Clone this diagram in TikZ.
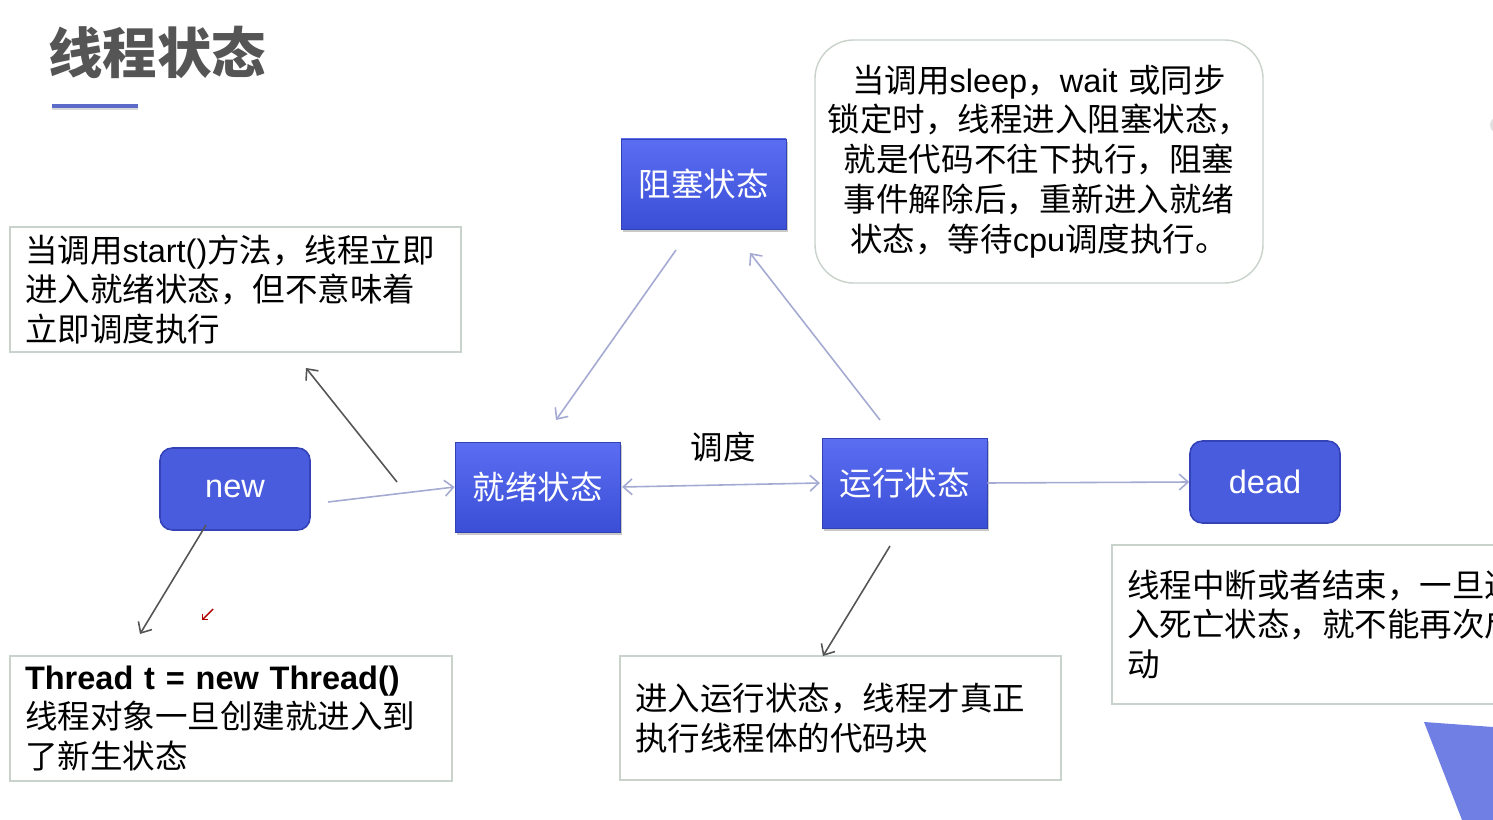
\documentclass[tikz,border=0pt]{standalone}
\usepackage{fontspec}
\setmainfont{Noto Sans CJK SC}
\newfontfamily\latinsans{Liberation Sans}
\usetikzlibrary{arrows.meta,shadows}
\newdimen\pxu \pxu=0.02cm
\newcommand{\ltn}[1]{{\latinsans #1}}
\definecolor{boxtop}{HTML}{5B6EF2}
\definecolor{boxbot}{HTML}{3A4ED6}
\definecolor{rbfill}{HTML}{4A5CDE}
\definecolor{rbdraw}{HTML}{3444B8}
\definecolor{notegray}{HTML}{C9D3CB}
\definecolor{lightarrow}{HTML}{A4AAD2}
\definecolor{darkarrow}{HTML}{555555}
\definecolor{titlegray}{HTML}{555555}
\definecolor{underl}{HTML}{5C6BC8}
\definecolor{trifill}{HTML}{6F7FE3}
\begin{document}
\begin{tikzpicture}[x=0.02cm,y=-0.02cm,
  txt/.style={font=\fontsize{18.5pt}{22.7pt}\selectfont},
  statebox/.style={txt, minimum width=165\pxu, minimum height=90\pxu, inner sep=0pt,
    top color=boxtop, bottom color=boxbot, draw=boxbot!85!black, line width=0.4pt, text=white,
    drop shadow={shadow xshift=1.2pt, shadow yshift=-1.5pt, opacity=0.35, fill=black!60}},
  roundbox/.style={txt, minimum width=150\pxu, minimum height=82\pxu, inner sep=0pt,
    rounded corners=7pt, fill=rbfill, draw=rbdraw, line width=0.9pt, text=white, font=\fontsize{18.5pt}{22.7pt}\latinsans},
  notebox/.style={txt, draw=notegray, line width=0.8pt, inner xsep=15\pxu, inner ysep=0pt, align=left},
  larr/.style={draw=lightarrow, line width=0.9pt, -{Straight Barb[length=5pt,width=9pt]}},
  darr/.style={draw=darkarrow, line width=0.9pt, -{Straight Barb[length=5pt,width=9pt]}}
]
\useasboundingbox (0,0) rectangle (1493,820);
\fill[white] (0,0) rectangle (1493,820);

% title
\node[anchor=west, inner sep=0pt, text=titlegray, font=\fontsize{31pt}{36pt}\selectfont\bfseries] (title) at (48,52) {线程状态};
\coordinate (ul1) at (52,106);
\coordinate (ul2) at (138,106);
\draw[black!15, line width=2pt] ([yshift=-1.5pt]ul1) -- ([yshift=-1.5pt]ul2);
\draw[underl, line width=1.8pt] (ul1) -- (ul2);

% state boxes
\node[statebox] (block) at (703.5,184) {阻塞状态};
\node[statebox] (ready) at (537.5,487) {就绪状态};
\node[statebox] (run) at (904.5,483) {运行状态};
\node[roundbox] (new) at (235,489) {new};
\node[roundbox] (dead) at (1265,482) {dead};

% label
\node[txt, inner sep=0pt] (sched) at (723,447) {调度};

% note boxes
\node[notebox, text width=421\pxu, minimum height=125\pxu] (startnote) at (235.5,289.5)
  {当调用\ltn{start()}方法，线程立即\\进入就绪状态，但不意味着\\立即调度执行};
\node[notebox, text width=412\pxu, minimum height=125\pxu] (threadnote) at (231,718.5)
  {{\latinsans\bfseries Thread t = new Thread()}\\线程对象一旦创建就进入到\\了新生状态};
\node[notebox, text width=411\pxu, minimum height=124\pxu] (runnote) at (840.5,718)
  {进入运行状态，线程才真正\\执行线程体的代码块};
\node[notebox, text width=428\pxu, minimum height=243\pxu, inner xsep=10\pxu, rounded corners=22pt, align=center] (sleepnote) at (1039,161.5)
  {当调用\ltn{sleep}，\ltn{wait} 或同步\\锁定时，线程进入阻塞状态，\\就是代码不往下执行，阻塞\\事件解除后，重新进入就绪\\状态，等待\ltn{cpu}调度执行。};
\begin{scope}
\clip (0,0) rectangle (1493,820);
\node[notebox, text width=408\pxu, minimum height=159\pxu] (deadnote) at (1331,624.5)
  {线程中断或者结束，一旦进\\入死亡状态，就不能再次启\\动};
\fill[trifill] (1424,722) -- (1493,727) -- (1493,820) -- (1462,820) -- cycle;
\fill[black!12] (1498,125) circle (8);
\end{scope}

% connector endpoints
\coordinate (n1) at (328,502);
\coordinate (s1) at (397,482);
\coordinate (s2) at (306,368);
\coordinate (t1) at (206,525);
\coordinate (t2) at (140,634);
\coordinate (b1) at (676,250);
\coordinate (b2) at (556,420);
\coordinate (r1) at (880,420);
\coordinate (r2) at (750,253);
\coordinate (q1) at (890,546);
\coordinate (q2) at (823,656);
\coordinate (m1) at (213,609);
\coordinate (m2) at (202,620);

% connectors
\draw[larr] (n1) -- (ready.west);
\draw[darr] (s1) -- (s2);
\draw[darr] (t1) -- (t2);
\draw[larr] (b1) -- (b2);
\draw[larr] (r1) -- (r2);
\draw[larr, {Straight Barb[length=5pt,width=9pt]}-{Straight Barb[length=5pt,width=9pt]}] ([xshift=1pt]ready.east) -- ([xshift=-1pt]run.west);
\draw[larr] (run.east) -- (dead.west);
\draw[darr] (q1) -- (q2);
\draw[red!70!black, line width=0.8pt, -{Straight Barb[length=2pt,width=4pt]}] (m1) -- (m2);
\end{tikzpicture}
\end{document}
